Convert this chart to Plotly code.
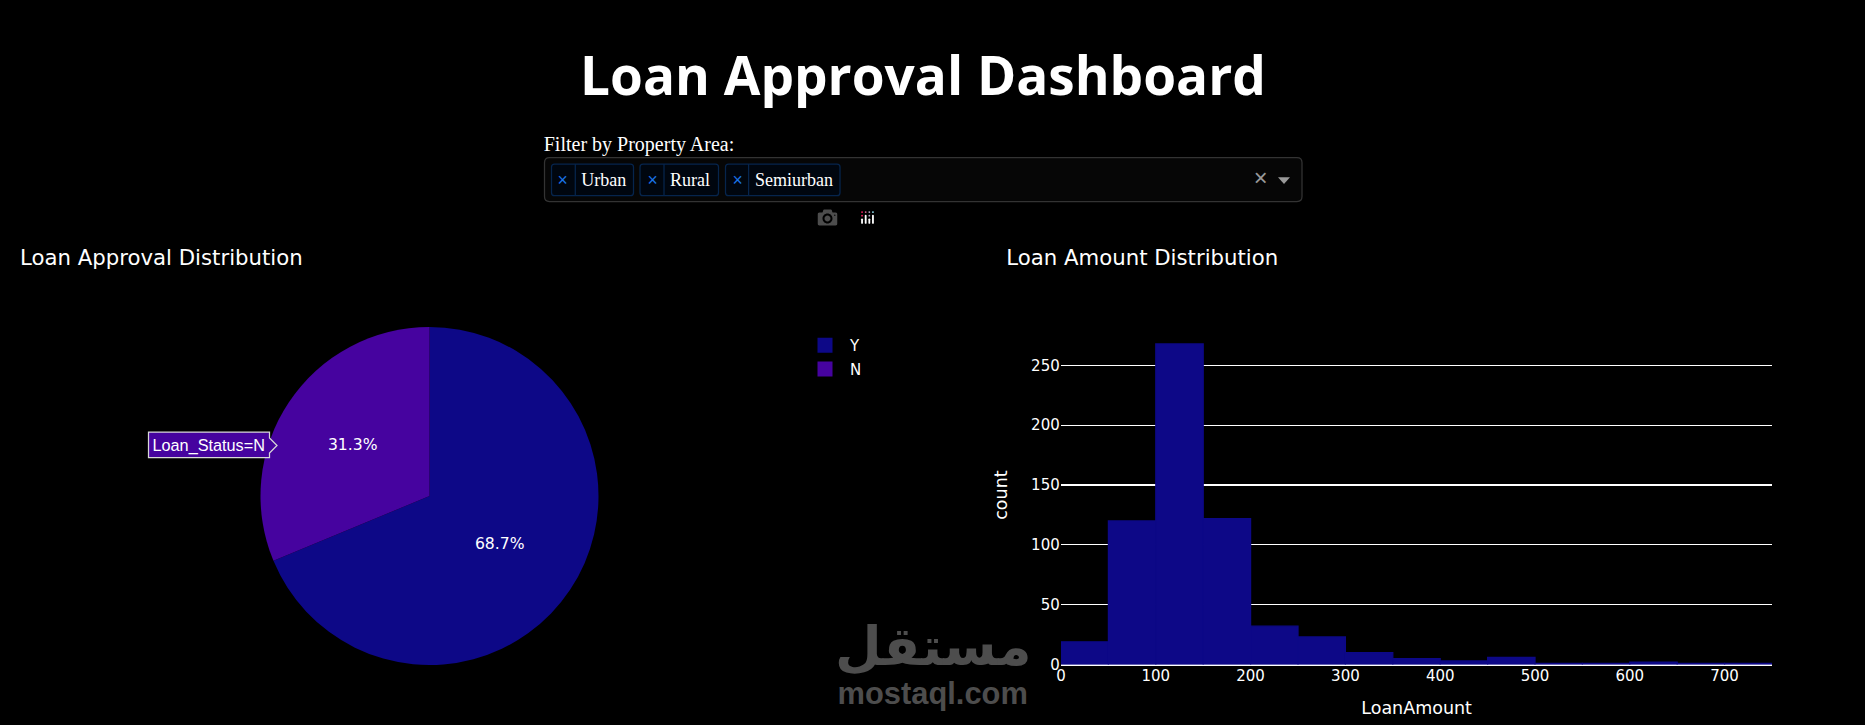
import plotly.graph_objects as go

# ---------- data ----------
status_labels = ["Y", "N"]
status_counts = [422, 192]
bin_starts = [0, 50, 100, 150, 200, 250, 300, 350, 400, 450, 500, 550, 600, 650, 700]
bin_counts = [19, 120, 268, 122, 32, 23, 10, 5, 3, 6, 1, 1, 2, 1, 1]
bin_width = 50
area_options = ["Urban", "Rural", "Semiurban"]

# ---------- page geometry (the page is rendered at 125 %) ----------
W, H, S = 1865, 725, 1.25
def fx(p): return p / W
def fy(p): return 1 - p / H

def rrect(x0, y0, x1, y1, r):
    a, b, c, d = fx(x0), fy(y0), fx(x1), fy(y1)
    rx, ry = r / W, r / H
    return (f"M{a+rx},{b} L{c-rx},{b} Q{c},{b} {c},{b-ry} L{c},{d+ry} Q{c},{d} {c-rx},{d} "
            f"L{a+rx},{d} Q{a},{d} {a},{d+ry} L{a},{b-ry} Q{a},{b} {a+rx},{b} Z")

def poly(pts):
    return "M" + " L".join(f"{fx(x)},{fy(y)}" for x, y in pts) + " Z"

def label(text, x, y, size, color="#ffffff", family="DejaVu Sans", xanchor="left", bold=False, angle=0):
    return dict(text=f"<b>{text}</b>" if bold else text, x=fx(x), y=fy(y), xref="paper", yref="paper",
                xanchor=xanchor, yanchor="middle", showarrow=False, textangle=angle,
                font=dict(size=size, color=color, family=family))

SERIF = "Liberation Serif"
shapes, annos = [], []

annos.append(label("Loan Approval Dashboard", 923, 74, 42.5, family="Open Sans", xanchor="center", bold=True))
annos.append(label("Filter by Property Area:", 541.5, 145.5, 16, family=SERIF))

# dropdown
shapes.append(dict(type="path", xref="paper", yref="paper", path=rrect(544.5, 157.5, 1302, 201.5, 5),
                   fillcolor="#060606", line=dict(color="#333333", width=1), layer="below"))
chips = [(551.5, 575.3, 633.5, 563, 579), (640, 664, 718.5, 652, 668), (725.5, 748.6, 840, 737, 753)]
for (x0, xd, x1, xc, xt), name in zip(chips, area_options):
    shapes.append(dict(type="path", xref="paper", yref="paper", path=rrect(x0, 164, x1, 195.7, 3),
                       fillcolor="#00060f", line=dict(color="#06254d", width=1), layer="below"))
    shapes.append(dict(type="line", xref="paper", yref="paper", x0=fx(xd), x1=fx(xd), y0=fy(164), y1=fy(195.7),
                       line=dict(color="#06254d", width=1), layer="below"))
    annos.append(label("×", xc, 179.5, 14, color="#1a73e8", family="Liberation Sans", xanchor="center"))
    annos.append(label(name, xt, 179.5, 14.4, family=SERIF))
annos.append(label("×", 1261, 178.5, 19, color="#999999", family="Liberation Sans", xanchor="center"))
shapes.append(dict(type="path", xref="paper", yref="paper",
                   path=poly([(1278, 177.3), (1290, 177.3), (1284, 184)]),
                   fillcolor="#999999", line=dict(width=0), layer="below"))

# panel titles
annos.append(label("Loan Approval Distribution", 17.5, 257.5, 17))
annos.append(label("Loan Amount Distribution", 1003.5, 257.5, 17))

# axis titles
annos.append(label("LoanAmount", 1417, 708, 14, xanchor="center"))
annos.append(label("count", 1001, 495, 14, xanchor="center", angle=-90))

# hover label on the pie
shapes.append(dict(type="path", xref="paper", yref="paper",
                   path=poly([(148.5, 432), (269.5, 432), (269.5, 438), (277, 445.5), (269.5, 453),
                              (269.5, 457.5), (148.5, 457.5)]),
                   fillcolor="#46039f", line=dict(color="#d8d8d8", width=1), layer="above"))
annos.append(label("Loan_Status=N", 150.5, 445, 13, family="Liberation Sans"))

# watermark
annos.append(label("مستقل", 932.5, 646, 43, color="#4d4d4d", family="DejaVu Sans", xanchor="center", bold=True))
annos.append(label("mostaql.com", 932.5, 693, 24.7, color="#4d4d4d", family="Liberation Sans", xanchor="center", bold=True))

# ---------- figure ----------
fig = go.Figure()
fig.add_trace(go.Pie(labels=status_labels, values=status_counts, sort=False, direction="clockwise",
                     textinfo="percent", textposition="inside", insidetextorientation="horizontal",
                     marker=dict(colors=["#0d0887", "#46039f"], line=dict(width=0)),
                     textfont=dict(color="#ffffff", size=12.5),
                     domain=dict(x=[fx(260.5), fx(598.5)], y=[fy(665), fy(327)])))
fig.add_trace(go.Bar(x=[s + bin_width / 2 for s in bin_starts], y=bin_counts, width=bin_width,
                     marker=dict(color="#0d0887", line=dict(width=1, color="#0d0887")), showlegend=False,
                     xaxis="x", yaxis="y"))

fig.update_layout(
    template="none",
    width=W / S, height=H / S, autosize=False,
    margin=dict(l=0, r=0, t=0, b=0),
    paper_bgcolor="#000000", plot_bgcolor="#000000",
    font=dict(family="DejaVu Sans", color="#ffffff", size=12),
    xaxis=dict(domain=[fx(1061), fx(1772)], range=[0, 750], dtick=100, showgrid=False, zeroline=False,
               showline=False, ticks="", automargin=False),
    yaxis=dict(domain=[fy(664.5), fy(327)], range=[0, 282.1], dtick=50, showgrid=True, gridcolor="#ffffff",
               gridwidth=1, zeroline=True, zerolinecolor="#ffffff", zerolinewidth=2, showline=False, ticks="",
               automargin=False),
    legend=dict(x=fx(800), xanchor="left", y=fy(327), yanchor="top", bgcolor="rgba(0,0,0,0)",
                font=dict(size=12, color="#ffffff"), traceorder="normal"),
    shapes=shapes, annotations=annos,
    modebar=dict(bgcolor="rgba(0,0,0,0)", color="rgba(255,255,255,0.3)", activecolor="rgba(255,255,255,0.7)"),
)

post = """
document.body.style.margin = '0';
document.body.style.overflow = 'hidden';
document.body.style.background = '#000';
var gd = document.getElementById('{plot_id}');
gd.style.transformOrigin = '0 0';
gd.style.transform = 'scale(1.25)';
var st = document.createElement('style');
st.textContent = '.modebar{left:642px !important; right:auto !important; top:163px !important;}';
document.head.appendChild(st);
"""
fig.write_html("out.html", post_script=post,
               config=dict(displayModeBar=True, modeBarButtons=[["toImage"]], displaylogo=True, responsive=False))
